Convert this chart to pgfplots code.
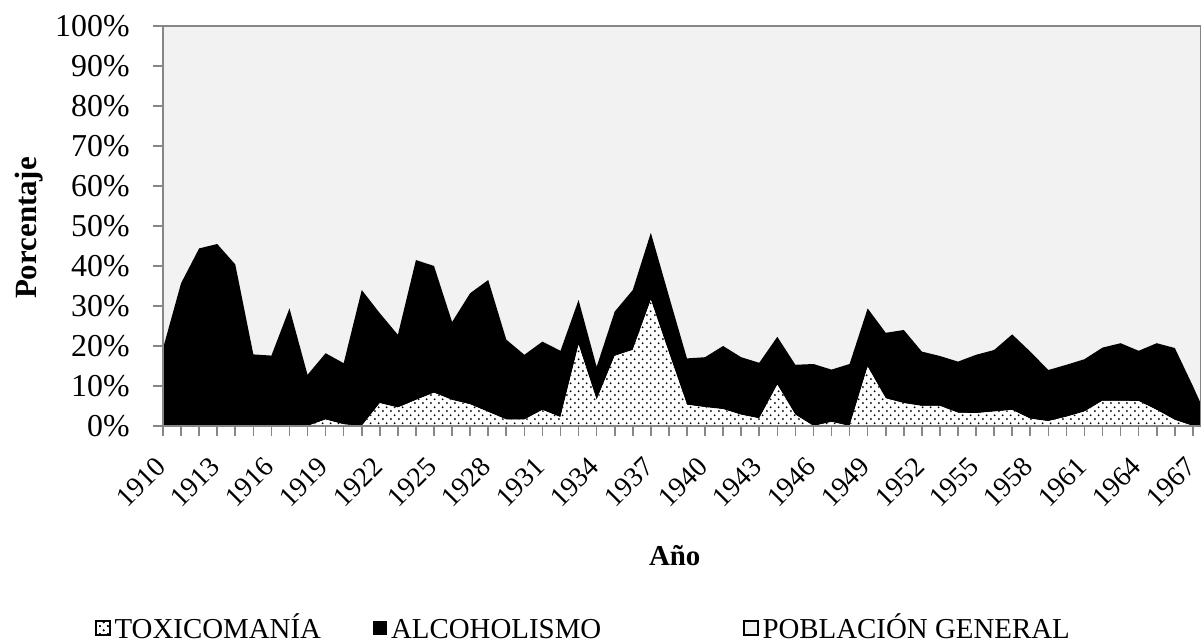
\documentclass[border=0pt]{standalone}
\usepackage{pgfplots}
\usepackage{pgfplotstable}
\pgfplotsset{compat=1.18}
\usepackage{fontspec}
\setmainfont{Liberation Serif}
\usetikzlibrary{patterns}
\definecolor{axgray}{RGB}{134,134,134}
\definecolor{bggray}{RGB}{242,242,242}
\pgfdeclarepatternformonly{mydots}{\pgfqpoint{0pt}{0pt}}{\pgfqpoint{4.15pt}{4.15pt}}{\pgfqpoint{4.15pt}{4.15pt}}{%
  \pgfpathcircle{\pgfqpoint{1.04pt}{1.04pt}}{0.55pt}%
  \pgfpathcircle{\pgfqpoint{3.11pt}{3.11pt}}{0.55pt}%
  \pgfusepath{fill}%
}
\pgfplotstableread{
year t a p
1910 0 19.4 80.6
1911 0 35.7 64.3
1912 0 44.4 55.6
1913 0 45.5 54.5
1914 0 40.4 59.6
1915 0 17.9 82.1
1916 0 17.6 82.4
1917 0 29.4 70.6
1918 0 12.8 87.2
1919 1.6 16.6 81.8
1920 0.4 15.3 84.3
1921 0 34.0 66.0
1922 5.7 22.5 71.8
1923 4.6 18.2 77.2
1924 6.5 35.0 58.5
1925 8.3 31.7 60.0
1926 6.5 19.5 74.0
1927 5.4 27.8 66.8
1928 3.5 33.0 63.5
1929 1.6 20.0 78.4
1930 1.6 16.2 82.2
1931 4.0 17.1 78.9
1932 2.2 16.6 81.2
1933 20.3 11.2 68.5
1934 6.5 8.3 85.2
1935 17.5 11.1 71.4
1936 19.0 15.0 66.0
1937 31.5 16.8 51.7
1938 18.3 14.2 67.5
1939 5.3 11.6 83.1
1940 4.7 12.5 82.8
1941 4.2 15.8 80.0
1942 2.8 14.4 82.8
1943 1.9 13.9 84.2
1944 10.3 12.0 77.7
1945 2.8 12.5 84.7
1946 0 15.5 84.5
1947 1.0 13.1 85.9
1948 0 15.5 84.5
1949 14.8 14.6 70.6
1950 6.9 16.4 76.7
1951 5.7 18.3 76.0
1952 5.0 13.6 81.4
1953 5.0 12.5 82.5
1954 3.3 12.8 83.9
1955 3.2 14.6 82.2
1956 3.6 15.4 81.0
1957 4.0 18.9 77.1
1958 1.8 16.8 81.4
1959 1.2 12.8 86.0
1960 2.3 13.0 84.7
1961 3.6 13.1 83.3
1962 6.3 13.3 80.4
1963 6.3 14.4 79.3
1964 6.2 12.6 81.2
1965 4.0 16.7 79.3
1966 1.5 18.0 80.5
1967 0 10.0 90.0
1968 0 0.0 100.0
}\datatable
\begin{document}
\begin{tikzpicture}
\useasboundingbox (0,0) rectangle (600.5bp,321.5bp);
\begin{axis}[
  at={(81.5bp,108.5bp)}, anchor=south west,
  scale only axis, width=519bp, height=200bp,
  xmin=1910, xmax=1967.45, ymin=0, ymax=100,
  stack plots=y, area style,
  xtick={1910,1911,...,1967},
  xticklabels={1910,,,1913,,,1916,,,1919,,,1922,,,1925,,,1928,,,1931,,,1934,,,1937,,,1940,,,1943,,,1946,,,1949,,,1952,,,1955,,,1958,,,1961,,,1964,,,1967},
  ytick={0,10,...,100},
  yticklabels={0\%,10\%,20\%,30\%,40\%,50\%,60\%,70\%,80\%,90\%,100\%},
  tick align=outside, xtick pos=left, ytick pos=left,
  major tick length=5bp,
  every tick/.style={axgray, line width=0.8bp},
  axis line style={axgray, line width=0.9bp},
  yticklabel style={anchor=east, inner sep=0pt, xshift=-11.5bp, font=\fontsize{16}{16}\selectfont},
  xticklabel style={xshift=-4.5bp, yshift=-9.5bp, rotate=45, anchor=north east, inner sep=0pt, font=\fontsize{14}{14}\selectfont},
  ylabel={\textbf{Porcentaje}},
  ylabel style={at={(axis description cs:-0.129,0.495)}, anchor=center, font=\fontsize{15.5}{15.5}\selectfont},
  xlabel={\textbf{Año}},
  xlabel style={at={(axis description cs:0.493,-0.325)}, anchor=center, font=\fontsize{14.5}{14.5}\selectfont},
  legend style={at={(axis description cs:-0.0655,-0.505)}, anchor=west, draw=none, fill=none, inner sep=0pt,
    font=\fontsize{14.5}{14.5}\selectfont, legend columns=3,
    /tikz/every even column/.append style={column sep=24bp}},
  legend cell align=left,
]
\addplot[draw=none, fill=white, postaction={pattern=mydots},
  legend image code/.code={\draw[black, line width=0.6bp, fill=white, postaction={pattern=mydots}] (0bp,-3.5bp) rectangle (7bp,3.5bp);}]
  table[x=year, y=t] {\datatable} \closedcycle;
\addlegendentry{TOXICOMANÍA}
\addplot[draw=none, fill=black,
  legend image code/.code={\fill[black] (0bp,-3.5bp) rectangle (7bp,3.5bp);}]
  table[x=year, y=a] {\datatable} \closedcycle;
\addlegendentry{ALCOHOLISMO\vphantom{ÍÓ}\hspace*{45bp}}
\addplot[draw=none, fill=bggray,
  legend image code/.code={\draw[black, line width=0.6bp, fill=bggray] (0bp,-3.5bp) rectangle (7bp,3.5bp);}]
  table[x=year, y=p] {\datatable} \closedcycle;
\addlegendentry{POBLACIÓN GENERAL}
\end{axis}
\end{tikzpicture}
\end{document}
